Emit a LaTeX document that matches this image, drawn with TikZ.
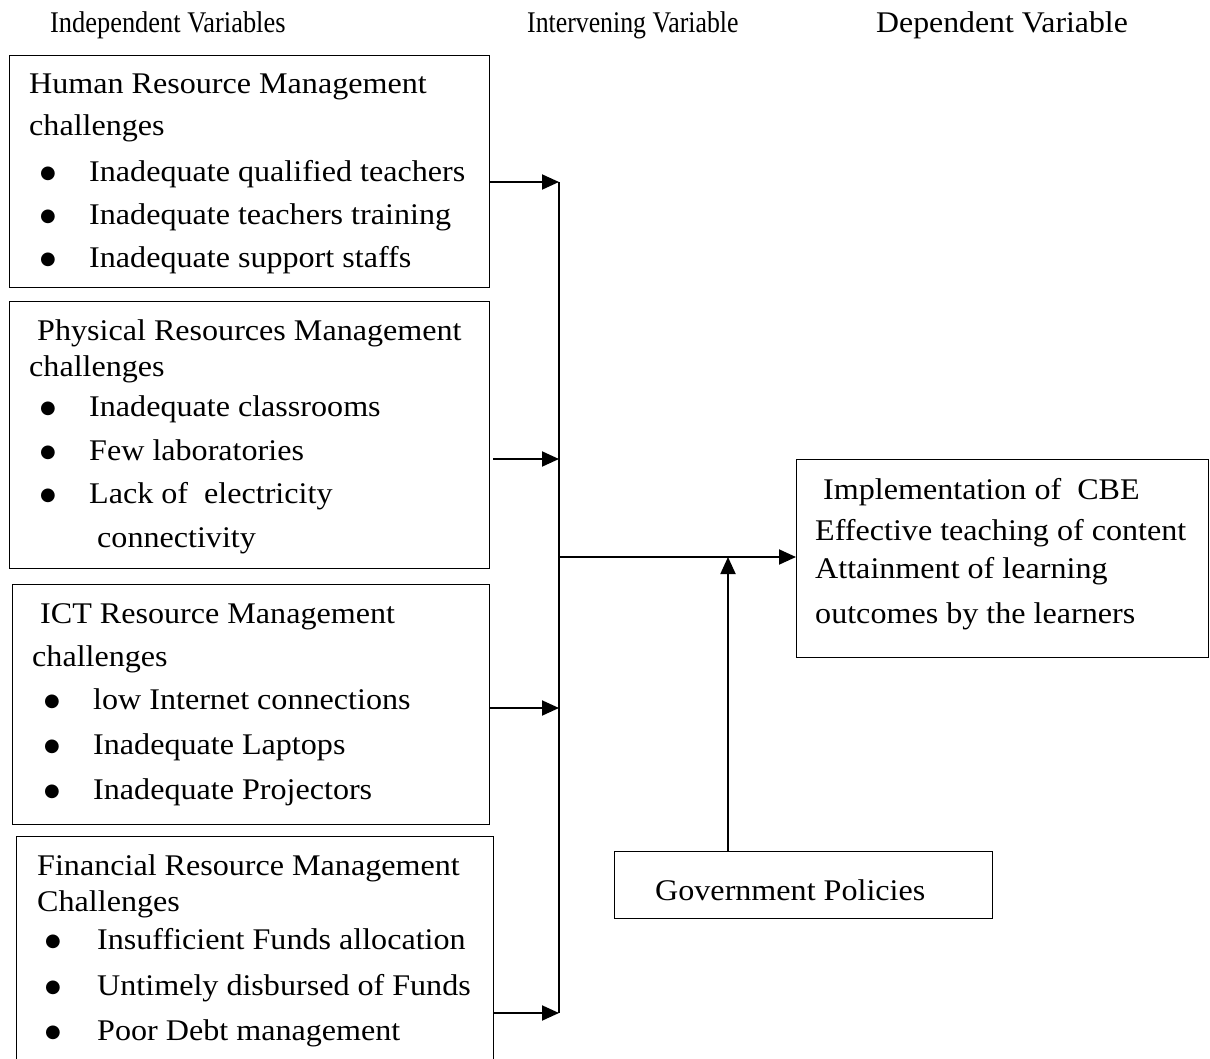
\documentclass[tikz,border=0pt]{standalone}
\usepackage{fontspec}
\setmainfont{Liberation Serif}
\newfontfamily\bulfont{DejaVu Sans}
\usetikzlibrary{arrows.meta}
\begin{document}
\begin{tikzpicture}[x=1pt,y=-1pt,
  txt/.style={anchor=base west,inner sep=0pt,font=\fontsize{30}{33}\selectfont,xscale=1.07,transform shape},
  hdr/.style={anchor=base west,inner sep=0pt,font=\fontsize{30}{33}\selectfont,transform shape},
  bul/.style={anchor=base,inner sep=0pt,yshift=3pt,font=\bulfont\fontsize{18}{20}\selectfont},
  box/.style={draw,line width=1pt,anchor=north west,inner sep=0pt},
  arr/.style={line width=1.9pt,-{Triangle[length=17pt,width=15pt]}},
  trunk/.style={line width=1.3pt}]
\useasboundingbox (0,0) rectangle (1210,1059);
\clip (0,0) rectangle (1210,1059);
% headers
\node[hdr,xscale=0.88] (h1) at (50,33) {Independent Variables};
\node[hdr,xscale=0.86] (h2) at (527,33) {Intervening Variable};
\node[hdr,xscale=1.06] (h3) at (876,33) {Dependent Variable};
% boxes
\node[box,minimum width=480pt,minimum height=232pt] (b1) at (9,55) {};
\node[box,minimum width=480pt,minimum height=267pt] (b2) at (9,301) {};
\node[box,minimum width=477pt,minimum height=240pt] (b3) at (12,584) {};
\node[box,minimum width=477pt,minimum height=260pt] (b4) at (16,836) {};
\node[box,minimum width=412pt,minimum height=198pt] (cbe) at (796,459) {};
\node[box,minimum width=378pt,minimum height=67pt] (gov) at (614,851) {};
% box 1 text
\node[txt] (t11) at (29,94) {Human Resource Management};
\node[txt] (t12) at (29,136) {challenges};
\node[bul] (d11) at (48,182) {●};
\node[txt] (t13) at (89,182) {Inadequate qualified teachers};
\node[bul] (d12) at (48,225) {●};
\node[txt] (t14) at (89,225) {Inadequate teachers training};
\node[bul] (d13) at (48,268) {●};
\node[txt] (t15) at (89,268) {Inadequate support staffs};
% box 2 text
\node[txt] (t21) at (37,340) {Physical Resources Management};
\node[txt] (t22) at (29,376) {challenges};
\node[bul] (d21) at (48,416) {●};
\node[txt] (t23) at (89,416) {Inadequate classrooms};
\node[bul] (d22) at (48,460) {●};
\node[txt] (t24) at (89,460) {Few laboratories};
\node[bul] (d23) at (48,503) {●};
\node[txt] (t25) at (89,503) {Lack of\ \ electricity};
\node[txt] (t26) at (97,547) {connectivity};
% box 3 text
\node[txt] (t31) at (40,623) {ICT Resource Management};
\node[txt] (t32) at (32,666) {challenges};
\node[bul] (d31) at (52,709) {●};
\node[txt] (t33) at (93,709) {low Internet connections};
\node[bul] (d32) at (52,754) {●};
\node[txt] (t34) at (93,754) {Inadequate Laptops};
\node[bul] (d33) at (52,799) {●};
\node[txt] (t35) at (93,799) {Inadequate Projectors};
% box 4 text
\node[txt] (t41) at (37,875) {Financial Resource Management};
\node[txt] (t42) at (37,911) {Challenges};
\node[bul] (d41) at (53,949) {●};
\node[txt] (t43) at (97,949) {Insufficient Funds allocation};
\node[bul] (d42) at (53,995) {●};
\node[txt] (t44) at (97,995) {Untimely disbursed of Funds};
\node[bul] (d43) at (53,1040) {●};
\node[txt] (t45) at (97,1040) {Poor Debt management};
% CBE text
\node[txt] (c1) at (823,499) {Implementation of\ \ CBE};
\node[txt] (c2) at (815,540) {Effective teaching of content};
\node[txt] (c3) at (815,578) {Attainment of learning};
\node[txt] (c4) at (815,623) {outcomes by the learners};
% government text
\node[txt] (g1) at (655,900) {Government Policies};
% connectors
\coordinate (p1) at (559,182);
\coordinate (p2) at (559,459);
\coordinate (p3) at (559,708);
\coordinate (p4) at (559,1013);
\coordinate (pm) at (559,557);
\coordinate (pg) at (728,557);
\draw[trunk] (p1) -- (p4);
\draw[arr] (b1.east |- p1) -- (p1);
\draw[arr] ([xshift=3pt]b2.east |- p2) -- (p2);
\draw[arr] (b3.east |- p3) -- (p3);
\draw[arr] (b4.east |- p4) -- (p4);
\draw[arr] (pm) -- (cbe.west |- pm);
\draw[arr] (gov.north -| pg) -- (pg);
\end{tikzpicture}
\end{document}
